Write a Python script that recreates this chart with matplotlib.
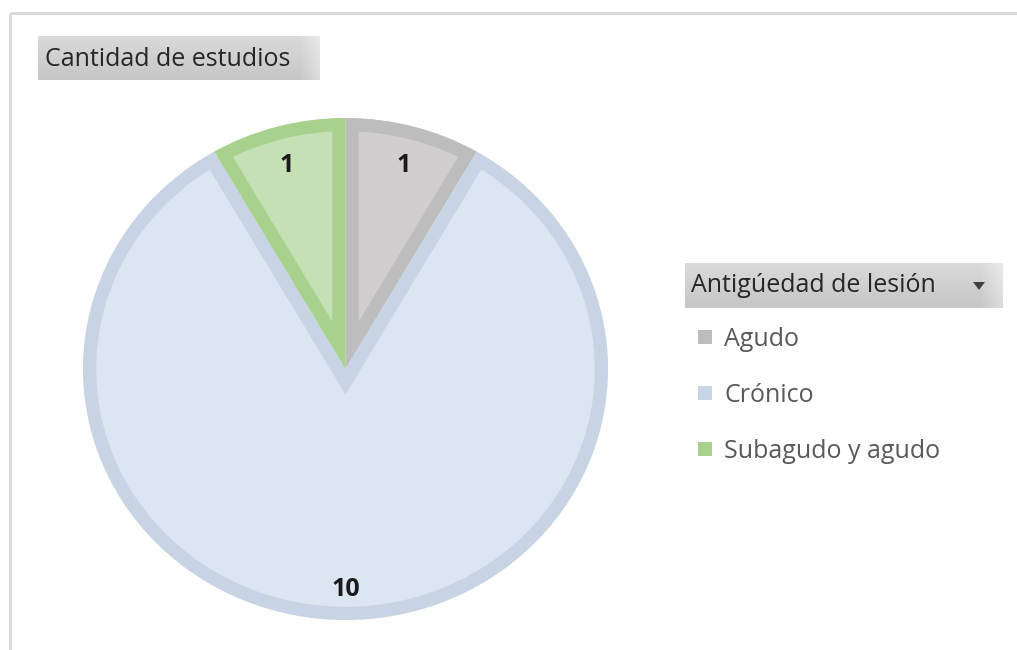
import numpy as np
import matplotlib.pyplot as plt
from matplotlib.patches import Rectangle, Polygon
from matplotlib.colors import to_rgb

# datos
categorias = ['Agudo', 'Crónico', 'Subagudo y agudo']
cantidad = [1, 10, 1]
titulo = 'Cantidad de estudios'
titulo_leyenda = 'Antigúedad de lesión'

# estilo
relleno = ['#d0cece', '#dce6f2', '#c5e0b4']
borde = ['#bdbdbd', '#c8d4e4', '#a9d18e']
fuente = 'Open Sans'

W, H = 1017, 650
plt.rcParams['font.family'] = [fuente, 'DejaVu Sans']
fig = plt.figure(figsize=(W / 100, H / 100), dpi=100)

# capa de fondo en pixeles (origen arriba a la izquierda)
bg = fig.add_axes([0, 0, 1, 1])
bg.set_axis_off()


def caja_gris(x0, y0, x1, y1):
    v = np.linspace(0, 1, 60)[:, None, None]
    h = np.linspace(0, 1, 300)[None, :, None]
    arriba = np.array(to_rgb('#dadada'))
    abajo = np.array(to_rgb('#c6c6c6'))
    img = arriba + (abajo - arriba) * v
    img = img + (1 - img) * 0.4 * np.clip((h - 0.93) / 0.07, 0, 1)
    img = np.broadcast_to(img, (60, 300, 3))
    bg.imshow(img, extent=(x0, x1, y1, y0), aspect='auto', origin='upper', zorder=1)


# marco del grafico
bg.plot([10, 10], [H, 13], color='#d9d9d9', lw=2.2, solid_capstyle='butt')
bg.plot([10, W], [13, 13], color='#d9d9d9', lw=2.2, solid_capstyle='butt')

# titulo tipo boton
caja_gris(38, 36, 320, 80)
bg.text(45, 59, titulo, fontsize=18, color='#262626', va='center', ha='left', zorder=3)

# leyenda
caja_gris(685, 263, 1003, 308)
bg.text(691, 286, titulo_leyenda, fontsize=18, color='#262626', va='center', ha='left', zorder=3)
bg.add_patch(Polygon([[973, 282], [985, 282], [979, 290]], closed=True,
                     facecolor='#404040', edgecolor='none', zorder=3))
for i, (nombre, color) in enumerate(zip(categorias, borde)):
    yc = 337 + 56 * i
    bg.add_patch(Rectangle((698, yc - 7), 14, 14, facecolor=color, edgecolor='none', zorder=3))
    bg.text(724, yc + 2, nombre, fontsize=18, color='#595959', va='center', ha='left', zorder=3)

bg.set_xlim(0, W)
bg.set_ylim(H, 0)

# pastel
ax = fig.add_axes([83 / W, 1 - 620 / H, 525 / W, 502 / H])
total = sum(cantidad)
wedges, textos, etiquetas = ax.pie(
    cantidad, colors=relleno, startangle=90, counterclock=False, radius=1,
    autopct=lambda p: f'{p * total / 100:.0f}', pctdistance=0.86,
    wedgeprops=dict(linewidth=19),
    textprops=dict(fontsize=18, fontweight='bold', color='#1a1a1a'))
for w, c in zip(wedges, borde):
    w.set_edgecolor(c)
    w.set_joinstyle('miter')
    w.set_clip_on(True)
    w.set_clip_path(w)   # borde solo hacia dentro, como en Excel
for t in etiquetas:
    x, y = t.get_position()
    t.set_position((x, y - 0.02))
ax.set_aspect('auto')
ax.set_xlim(-1, 1)
ax.set_ylim(-1, 1)
ax.set_axis_off()

fig.savefig('out.png', dpi=100)
